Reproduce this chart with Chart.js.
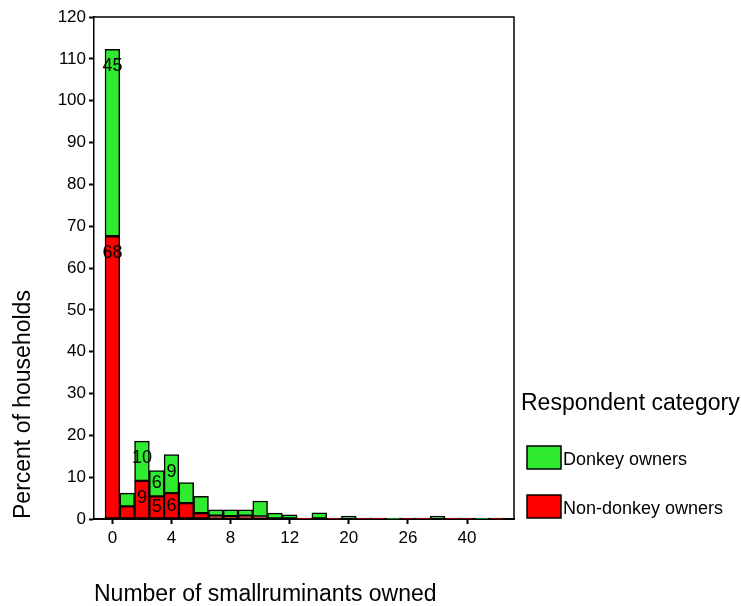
<!DOCTYPE html>
<html>
<head>
<meta charset="utf-8">
<script src="https://cdn.jsdelivr.net/npm/chart.js@4.4.1/dist/chart.umd.min.js"></script>
<style>
    body { margin: 0; background: #fff; }
</style>
</head>
<body>
<canvas id="ruminantChart" width="741" height="606"></canvas>
<script>
let categories = [
    "0", "1", "2", "3", "4", "5", "6", "7", "8", "9", "10", "11", "12",
    "14", "15", "16", "20", "22", "24", "25", "26", "30", "32", "35", "40", "45", "50"
];

// percent of households, by respondent category
let nonDonkeyValues = [
    67.6, 3.0, 9.1, 5.4, 6.2, 3.8, 1.4, 0.8, 0.7, 0.8, 0.6, 0, 0,
    0.2, 0, 0.2, 0, 0.2, 0.2, 0, 0.2, 0.2, 0, 0.2, 0.2, 0, 0.2
];

let donkeyValues = [
    44.7, 3.2, 9.5, 6.2, 9.2, 4.9, 4.0, 1.4, 1.5, 1.4, 3.7, 1.4, 1.0,
    0, 1.5, 0, 0.7, 0, 0, 0.2, 0, 0, 0.7, 0, 0, 0.2, 0
];

let tickCategories = [0, 4, 8, 12, 16, 20, 24];   // every 4th category is labelled

let seriesNames = ["Non-donkey owners", "Donkey owners"];

const FONT = "'Liberation Sans', Arial, sans-serif";

// fine hatched green like the original fill
function greenPattern() {
    const c = document.createElement("canvas");
    c.width = 4;
    c.height = 4;
    const g = c.getContext("2d");
    g.fillStyle = "#22f022";
    g.fillRect(0, 0, 4, 4);
    g.fillStyle = "#55dd55";
    for (let i = 0; i < 4; i++) {
        g.fillRect(i, 3 - i, 1, 1);
    }
    return g.createPattern(c, "repeat");
}

let seriesColors = ["#ff0000", greenPattern()];

const toPoints = (values) => values.map((v, i) => ({ x: i, y: v }));

// box around the plot (top and right sides)
const frame = {
    id: "frame",
    afterDraw(chart) {
        const { ctx, chartArea: a } = chart;
        ctx.save();
        ctx.strokeStyle = "#000";
        ctx.lineWidth = 1.5;
        ctx.beginPath();
        ctx.moveTo(a.left, a.top);
        ctx.lineTo(a.right, a.top);
        ctx.lineTo(a.right, a.bottom);
        ctx.stroke();
        ctx.restore();
    }
};

// rounded percentages inside the bigger segments
const barLabels = {
    id: "barLabels",
    afterDatasetsDraw(chart) {
        const ctx = chart.ctx;
        ctx.save();
        ctx.font = "18px " + FONT;
        ctx.fillStyle = "#000";
        ctx.textAlign = "center";
        ctx.textBaseline = "middle";
        chart.data.datasets.forEach((ds, di) => {
            chart.getDatasetMeta(di).data.forEach((bar, i) => {
                const v = ds.data[i].y;
                if (v < 5) return;
                const y = Math.min((bar.y + bar.base) / 2, bar.y + 17);
                ctx.fillText(String(Math.round(v)), bar.x, y);
            });
        });
        ctx.restore();
    }
};

// legend on the right, donkey owners listed first
const sideLegend = {
    id: "sideLegend",
    afterDraw(chart) {
        const ctx = chart.ctx;
        ctx.save();
        ctx.fillStyle = "#000";
        ctx.textAlign = "left";
        ctx.textBaseline = "middle";
        ctx.font = "23px " + FONT;
        ctx.fillText("Respondent category", 521, 404);
        ctx.font = "18px " + FONT;
        const order = [1, 0];
        order.forEach((di, row) => {
            const ds = chart.data.datasets[di];
            const top = 446 + row * 49;
            ctx.fillStyle = ds.backgroundColor;
            ctx.fillRect(527, top, 34, 23);
            ctx.strokeStyle = "#000";
            ctx.lineWidth = 1.5;
            ctx.strokeRect(527, top, 34, 23);
            ctx.fillStyle = "#000";
            ctx.fillText(ds.label, 563, top + 14);
        });
        ctx.restore();
    }
};

new Chart(document.getElementById("ruminantChart"), {
    type: "bar",
    data: {
        datasets: [{
            label: seriesNames[0],
            data: toPoints(nonDonkeyValues),
            backgroundColor: seriesColors[0],
            borderColor: "#000",
            borderWidth: 1.5,
            borderSkipped: false,
            barPercentage: 1,
            categoryPercentage: 1
        }, {
            label: seriesNames[1],
            data: toPoints(donkeyValues),
            backgroundColor: seriesColors[1],
            borderColor: "#000",
            borderWidth: 1.5,
            borderSkipped: false,
            barPercentage: 1,
            categoryPercentage: 1
        }]
    },
    options: {
        responsive: false,
        animation: false,
        layout: {
            padding: { left: 0, top: 17, right: 227, bottom: 0 }
        },
        plugins: {
            legend: { display: false },
            tooltip: { enabled: false }
        },
        scales: {
            x: {
                type: "linear",
                stacked: true,
                offset: false,
                min: -1.245,
                max: 27.18,
                afterBuildTicks(scale) {
                    scale.ticks = tickCategories.map(v => ({ value: v }));
                },
                afterFit(scale) {
                    scale.height = 87;
                },
                ticks: {
                    color: "#000",
                    font: { family: FONT, size: 17 },
                    padding: 4,
                    callback: (value) => categories[value]
                },
                grid: {
                    offset: false,
                    drawOnChartArea: false,
                    color: "#000",
                    tickLength: 5,
                    tickWidth: 2
                },
                border: { color: "#000", width: 2 },
                title: {
                    display: true,
                    text: "Number of smallruminants owned",
                    align: "start",
                    color: "#000",
                    font: { family: FONT, size: 23, lineHeight: 1 },
                    padding: { top: 0, bottom: 0 }
                }
            },
            y: {
                stacked: true,
                min: 0,
                max: 120,
                afterFit(scale) {
                    scale.width = 94;
                },
                ticks: {
                    stepSize: 10,
                    color: "#000",
                    font: { family: FONT, size: 17 },
                    padding: 3
                },
                grid: {
                    drawOnChartArea: false,
                    color: "#000",
                    tickLength: 5,
                    tickWidth: 2
                },
                border: { color: "#000", width: 1.5 },
                title: {
                    display: true,
                    text: "Percent of households",
                    align: "start",
                    color: "#000",
                    font: { family: FONT, size: 23, lineHeight: 1 },
                    padding: { top: 12, bottom: 0 }
                }
            }
        }
    },
    plugins: [frame, barLabels, sideLegend]
});
</script>
</body>
</html>
